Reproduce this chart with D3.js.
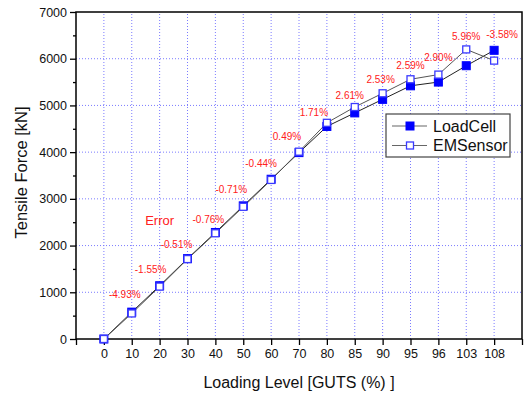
<!DOCTYPE html>
<html><head><meta charset="utf-8">
<script src="https://cdn.jsdelivr.net/npm/d3@7"></script>
<style>
html,body{margin:0;padding:0;background:#fff;}
text{font-family:"Liberation Sans",Arial,sans-serif;}
</style></head>
<body><svg id="chart" width="527" height="393"></svg>
<script>
// ---- data ----
const categories = ["0","10","20","30","40","50","60","70","80","85","90","95","96","103","108"];
const loadCell = [0,575,1140,1720,2280,2850,3420,3990,4550,4840,5130,5420,5500,5850,6180];
const emSensor = [0,547,1122,1711,2263,2830,3405,4010,4628,4966,5260,5560,5660,6199,5959];
const errorLabels = ["","-4.93%","-1.55%","-0.51%","-0.76%","-0.71%","-0.44%","0.49%","1.71%","2.61%","2.53%","2.59%","2.90%","5.96%","-3.58%"];
const yTicks = [0,1000,2000,3000,4000,5000,6000,7000];
const yMinorTicks = [500,1500,2500,3500,4500,5500,6500];
const seriesNames = ["LoadCell","EMSensor"];

// ---- layout ----
const W = 527, H = 393;
const m = {left:76, right:5, top:12, bottom:54};
const svg = d3.select("#chart");
const x = d3.scaleLinear().domain([-1, categories.length]).range([m.left, W - m.right]);
const y = d3.scaleLinear().domain([0, 7000]).range([H - m.bottom, m.top]);
const gridColor = "#7b7bff";
const blue = "#0000ff";

// grid
const g = svg.append("g");
g.selectAll(".vg").data(categories).enter().append("line")
  .attr("x1",(d,i)=>x(i)).attr("x2",(d,i)=>x(i))
  .attr("y1",y(0)).attr("y2",y(7000))
  .attr("stroke",gridColor).attr("stroke-width",1).attr("stroke-dasharray","1,2");
g.selectAll(".hg").data(yTicks.filter(v=>v>0 && v<7000)).enter().append("line")
  .attr("x1",x(-1)).attr("x2",x(categories.length))
  .attr("y1",d=>y(d)).attr("y2",d=>y(d))
  .attr("stroke",gridColor).attr("stroke-width",1).attr("stroke-dasharray","1,2");

// axes
const yAxis = svg.append("g").attr("transform",`translate(${m.left},0)`)
  .call(d3.axisLeft(y).tickValues(yTicks).tickSize(6).tickPadding(3).tickFormat(d3.format("d")));
const yMinor = svg.append("g").attr("transform",`translate(${m.left},0)`)
  .call(d3.axisLeft(y).tickValues(yMinorTicks).tickSize(3).tickFormat(""));
const xTickVals = d3.range(-1, categories.length + 1);
const xAxis = svg.append("g").attr("transform",`translate(0,${H - m.bottom})`)
  .call(d3.axisBottom(x).tickValues(xTickVals).tickSize(6).tickPadding(4)
    .tickFormat(i => (i >= 0 && i < categories.length) ? categories[i] : ""));
[yAxis, yMinor, xAxis].forEach(a => {
  a.select(".domain").remove();
  a.selectAll("line").attr("stroke","#000").attr("stroke-width",1.3);
  a.selectAll("text").attr("font-size","12.5px").attr("fill","#111")
   .style("font-family","'Liberation Sans',Arial,sans-serif");
});
// frame
svg.append("rect").attr("x",x(-1)).attr("y",y(7000))
  .attr("width",x(categories.length)-x(-1)).attr("height",y(0)-y(7000))
  .attr("fill","none").attr("stroke","#000").attr("stroke-width",1.5);

// lines
const line = d3.line().x((d,i)=>x(i)).y(d=>y(d));
svg.append("path").datum(loadCell).attr("d",line).attr("fill","none").attr("stroke","#222").attr("stroke-width",1);
svg.append("path").datum(emSensor).attr("d",line).attr("fill","none").attr("stroke","#555").attr("stroke-width",1);

const ms = 8;
svg.selectAll(".lc").data(loadCell).enter().append("rect")
  .attr("x",(d,i)=>x(i)-ms/2).attr("y",d=>y(d)-ms/2).attr("width",ms).attr("height",ms)
  .attr("fill",blue).attr("stroke",blue).attr("stroke-width",1);
svg.selectAll(".em").data(emSensor).enter().append("rect")
  .attr("x",(d,i)=>x(i)-ms/2+0.5).attr("y",d=>y(d)-ms/2+0.5).attr("width",ms-1).attr("height",ms-1)
  .attr("fill","#fff").attr("stroke","#3a3aff").attr("stroke-width",1.3);

// error labels (layout nudges in px)
const nudgeX = [0,-7,-9,-11,-7,-12,-10,-12,-13,-5,-2,0,0,0,8];
const nudgeY = [0,-18,-16,-14,-13,-16,-16,-15,-10,-12,-14,-14,-17,-13,-16];
svg.selectAll(".err").data(errorLabels).enter().append("text")
  .attr("x",(d,i)=>x(i)+nudgeX[i])
  .attr("y",(d,i)=>y(Math.max(loadCell[i],emSensor[i]))+nudgeY[i]+3.5)
  .attr("text-anchor","middle").attr("font-size","10px").attr("fill","#ff2020")
  .text(d=>d);
svg.append("text").attr("x",x(2)).attr("y",y(2530)+4.5).attr("text-anchor","middle")
  .attr("font-size","13px").attr("fill","#ff2020").text("Error");

// axis titles
svg.append("text").attr("transform",`translate(27,${(m.top + H - m.bottom)/2 - 3}) rotate(-90)`)
  .attr("text-anchor","middle").attr("font-size","16.5px").attr("fill","#111").text("Tensile Force [kN]");
svg.append("text").attr("x",299).attr("y",388).attr("text-anchor","middle")
  .attr("font-size","16px").attr("fill","#111").text("Loading Level [GUTS (%) ]");

// legend
const lg = svg.append("g").attr("transform","translate(386,114)");
lg.append("rect").attr("width",124).attr("height",43).attr("fill","#fff").attr("stroke","#444").attr("stroke-width",1.2);
seriesNames.forEach((name,k)=>{
  const cy = 12 + k*19.5;
  lg.append("line").attr("x1",6).attr("x2",41).attr("y1",cy).attr("y2",cy).attr("stroke","#666").attr("stroke-width",1.2);
  lg.append("rect").attr("x",24-ms/2+(k?0.5:0)).attr("y",cy-ms/2+(k?0.5:0))
    .attr("width",k?ms-1:ms).attr("height",k?ms-1:ms)
    .attr("fill",k?"#fff":blue).attr("stroke",k?"#3a3aff":blue).attr("stroke-width",k?1.3:1);
  lg.append("text").attr("x",47).attr("y",cy+5.5).attr("font-size","16px").attr("fill","#111").text(name);
});
</script></body></html>
